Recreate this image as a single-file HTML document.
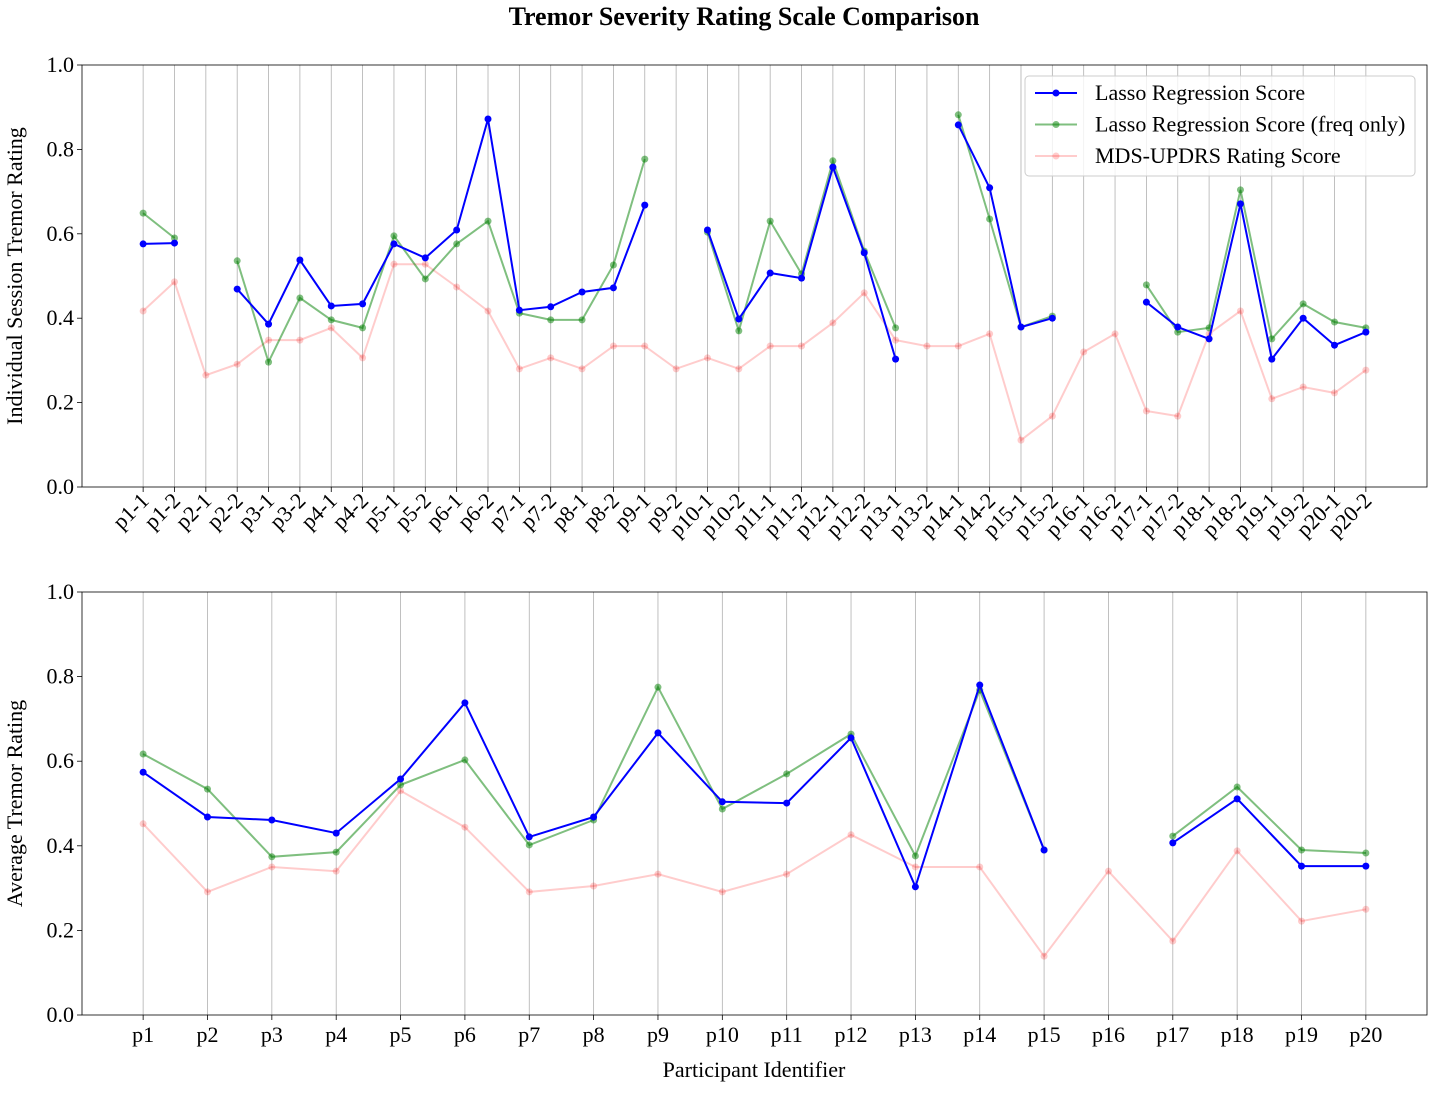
<!DOCTYPE html>
<html><head><meta charset="utf-8"><style>
body{margin:0;background:#fff;}
svg text{font-family:"Liberation Serif",serif;fill:#000;}
</style></head><body>
<svg id="chart" width="1433" height="1089" xmlns="http://www.w3.org/2000/svg">
<text x="744" y="25" text-anchor="middle" font-size="26" font-weight="bold">Tremor Severity Rating Scale Comparison</text>
</svg>
<script>
const sessionCats = [];
for (let i = 1; i <= 20; i++) { sessionCats.push('p'+i+'-1'); sessionCats.push('p'+i+'-2'); }
const N = null;
const sessLasso = [0.576,0.578,N,0.469,0.386,0.538,0.429,0.434,0.576,0.543,0.609,0.872,0.419,0.427,0.462,0.472,0.668,N,0.609,0.398,0.507,0.495,0.758,0.555,0.303,N,0.858,0.709,0.379,0.400,N,N,0.438,0.379,0.351,0.671,0.303,0.400,0.336,0.367];
const sessFreq = [0.649,0.590,N,0.536,0.296,0.448,0.396,0.377,0.595,0.493,0.576,0.630,0.412,0.396,0.396,0.526,0.777,N,0.604,0.370,0.630,0.505,0.773,0.559,0.377,N,0.882,0.635,0.379,0.405,N,N,0.479,0.367,0.377,0.704,0.351,0.434,0.391,0.377];
const sessMds = [0.417,0.486,0.265,0.291,0.348,0.348,0.377,0.306,0.528,0.528,0.474,0.417,0.280,0.306,0.280,0.334,0.334,0.280,0.306,0.280,0.334,0.334,0.389,0.460,0.348,0.334,0.334,0.363,0.111,0.168,0.320,0.363,0.180,0.168,0.363,0.417,0.209,0.237,0.223,0.277];
const partCats = [];
for (let i = 1; i <= 20; i++) partCats.push('p'+i);
const avgLasso = [0.574,0.468,0.461,0.430,0.558,0.738,0.421,0.468,0.667,0.504,0.501,0.655,0.303,0.780,0.390,N,0.407,0.511,0.352,0.352];
const avgFreq = [0.617,0.534,0.374,0.385,0.544,0.603,0.402,0.461,0.775,0.487,0.570,0.664,0.376,0.768,0.390,N,0.423,0.539,0.390,0.383];
const avgMds = [0.452,0.291,0.350,0.340,0.530,0.444,0.291,0.305,0.333,0.291,0.333,0.426,0.350,0.350,0.139,0.340,0.175,0.388,0.222,0.250];
const yTicks = [0,0.2,0.4,0.6,0.8,1.0];

const svg = document.getElementById('chart');
const NS = 'http://www.w3.org/2000/svg';
function mk(tag, attrs, parent){ const e=document.createElementNS(NS,tag); for(const k in attrs) e.setAttribute(k,attrs[k]); (parent||svg).appendChild(e); return e; }

function panel(cats, series, top, bottom, rotate, ylabel, name){
  const L=82, R=1427, n=cats.length;
  const sc=i=>L+(R-L)*((i+0.05*(n-1))/((n-1)*1.1));
  const sy=v=>bottom-(bottom-top)*v;
  const g=mk('g',{});
  
  
  cats.forEach((c,i)=>{
    const gl=mk('line',{x1:sc(i),x2:sc(i),y1:top,y2:bottom,stroke:'#b0b0b0','stroke-width':0.8},g);
    
    
    mk('line',{x1:sc(i),x2:sc(i),y1:bottom,y2:bottom+5,stroke:'#000','stroke-width':0.8},g);
    let t;
    if(rotate){
      t=mk('text',{x:sc(i)+7,y:bottom+15,'text-anchor':'end','font-size':22,transform:`rotate(-45 ${sc(i)+7} ${bottom+15})`},g);
    } else {
      t=mk('text',{x:sc(i),y:bottom+27,'text-anchor':'middle','font-size':22},g);
    }
    t.textContent=c;
    
    
  });
  yTicks.forEach(v=>{
    mk('line',{x1:L-5,x2:L,y1:sy(v),y2:sy(v),stroke:'#000','stroke-width':0.8},g);
    const t=mk('text',{x:L-8,y:sy(v)+7,'text-anchor':'end','font-size':22},g);
    t.textContent=v.toFixed(1);
    
    
  });
  const yl=mk('text',{x:22,y:(top+bottom)/2,'text-anchor':'middle','font-size':22,transform:`rotate(-90 22 ${(top+bottom)/2})`},g);
  yl.textContent=ylabel;
  
  
  series.forEach(s=>{
    let d='', pen=false;
    s.data.forEach((v,i)=>{
      if(v===null){pen=false;return;}
      d+=(pen?'L':'M')+sc(i).toFixed(1)+' '+sy(v).toFixed(1)+' '; pen=true;
    });
    const p=mk('path',{d:d,fill:'none',stroke:s.color,'stroke-opacity':s.op,'stroke-width':2},g);
    
    
    s.data.forEach((v,i)=>{
      if(v===null)return;
      const c=mk('circle',{cx:sc(i),cy:sy(v),r:3.5,fill:s.color,'fill-opacity':s.op},g);
      
      
    });
  });
  const fr=mk('rect',{x:L,y:top,width:R-L,height:bottom-top,fill:'none',stroke:'#000','stroke-width':0.8},g);
  
  
}
const mkSeries=(a,b,c)=>[
  {data:c,color:'#ff0000',op:0.2,name:'mds-updrs'},
  {data:b,color:'#008000',op:0.5,name:'lasso-freq'},
  {data:a,color:'#0000ff',op:1,name:'lasso'}];
panel(sessionCats, mkSeries(sessLasso,sessFreq,sessMds), 65, 487, true, 'Individual Session Tremor Rating', 'session-panel');
panel(partCats, mkSeries(avgLasso,avgFreq,avgMds), 592, 1015, false, 'Average Tremor Rating', 'average-panel');

const xt=mk('text',{x:754,y:1077,'text-anchor':'middle','font-size':22});
xt.textContent='Participant Identifier';



const lg=mk('g',{});


mk('rect',{x:1025,y:76,width:390,height:100,rx:4,fill:'#fff','fill-opacity':0.8,stroke:'#ccc'},lg);
const entries=[['Lasso Regression Score','#0000ff',1],['Lasso Regression Score (freq only)','#008000',0.5],['MDS-UPDRS Rating Score','#ff0000',0.2]];
entries.forEach((e,i)=>{
  const y=93+i*31.5;
  const eg=mk('g',{},lg);
  
  
  mk('line',{x1:1035,x2:1077,y1:y,y2:y,stroke:e[1],'stroke-opacity':e[2],'stroke-width':2},eg);
  mk('circle',{cx:1056,cy:y,r:3.5,fill:e[1],'fill-opacity':e[2]},eg);
  const t=mk('text',{x:1095,y:y+7,'font-size':22},eg);
  t.textContent=e[0];
});
</script>
</body></html>
